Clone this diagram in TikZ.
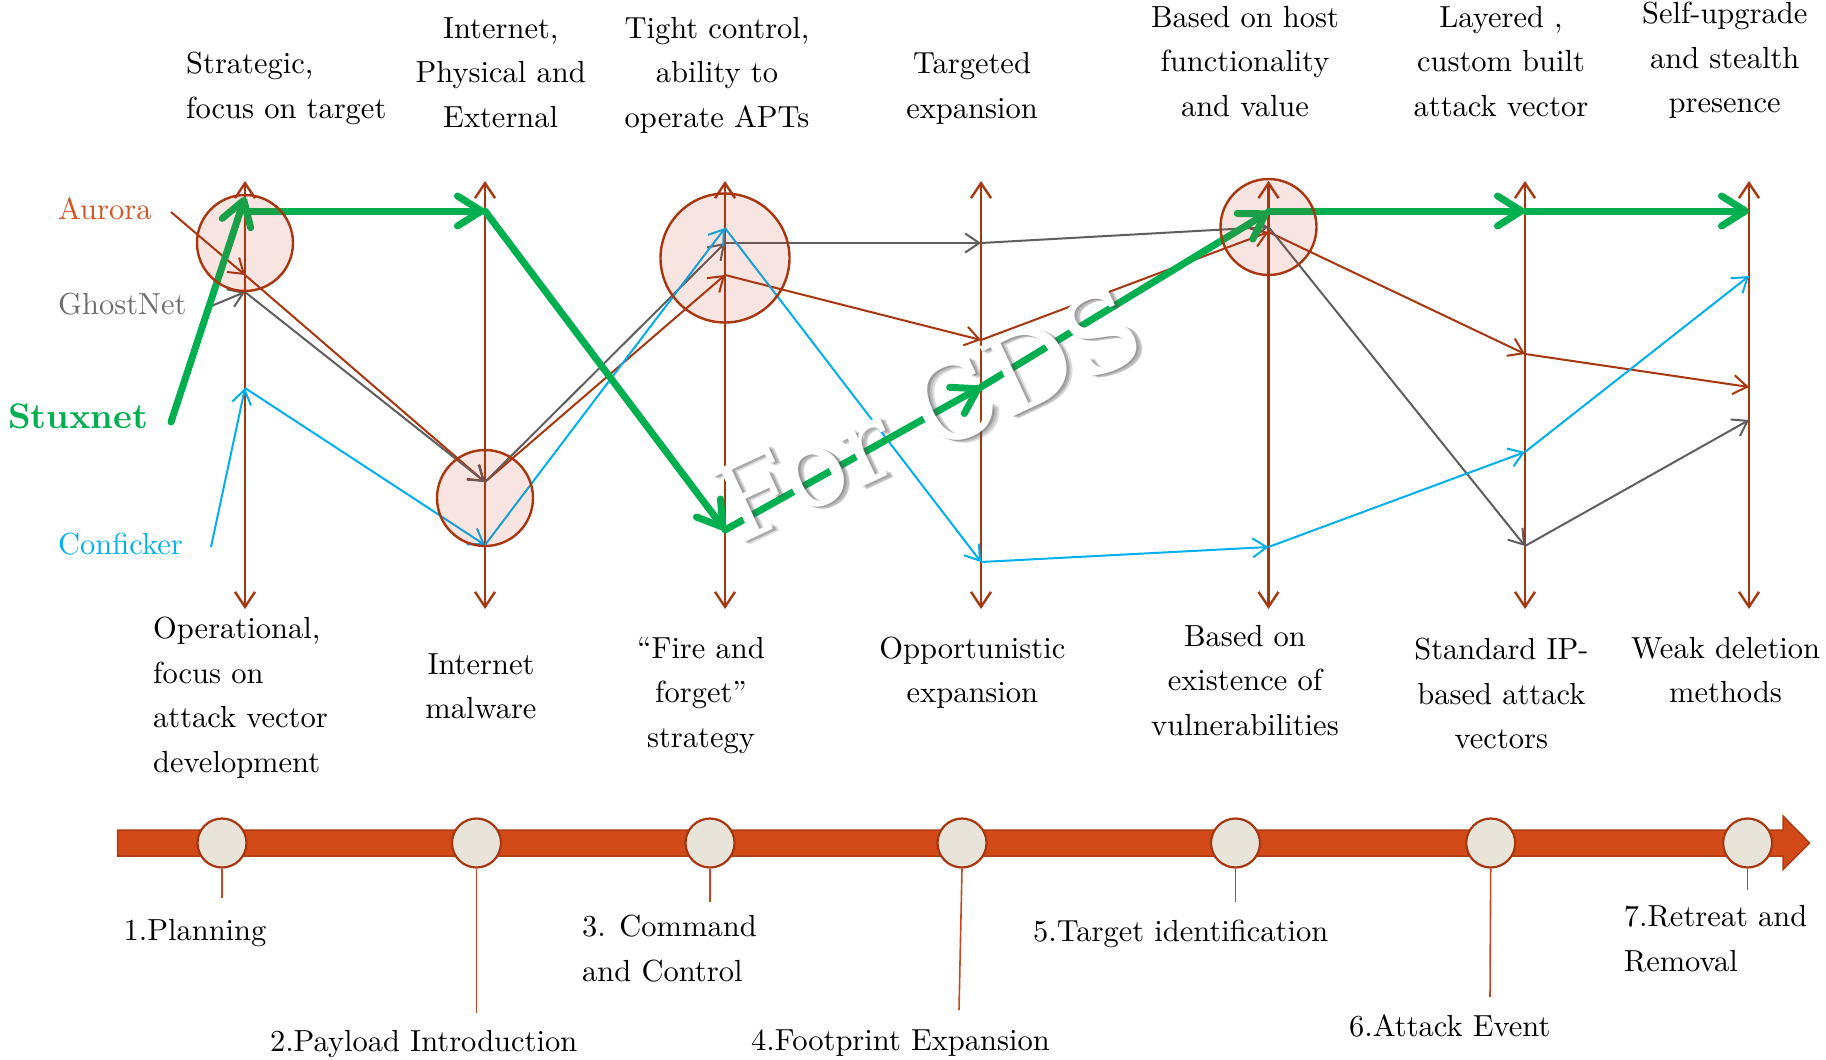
\documentclass[tikz,border=0pt]{standalone}
\usepackage{fontspec}
\setmainfont{lmroman10-regular.otf}[BoldFont=lmroman10-bold.otf, ItalicFont=lmroman10-italic.otf]
\newfontfamily\wmfont{DejaVu Serif}
\usetikzlibrary{arrows.meta}

\definecolor{rust}{HTML}{A8360F}
\definecolor{aurtxt}{HTML}{D65423}
\definecolor{gnline}{HTML}{5F5F5F}
\definecolor{gntxt}{HTML}{6E6E6E}
\definecolor{stuxgreen}{HTML}{00B050}
\definecolor{confblue}{HTML}{00B0F0}
\definecolor{hubfill}{HTML}{CB371B}
\definecolor{barfill}{HTML}{D14A18}
\definecolor{barline}{HTML}{B03C12}
\definecolor{stopfill}{HTML}{E8E4DA}
\definecolor{leadcol}{HTML}{C8471C}
\definecolor{shadowgray}{HTML}{505050}

\begin{document}
\begin{tikzpicture}[x=1pt,y=-1pt,
  lab/.style={inner sep=0pt, font=\fontsize{30.5}{44.5}\selectfont, align=center,
    execute at begin node=\strut, execute at end node=\strut},
  stage/.style={draw=rust, line width=2.4pt,
    arrows={Straight Barb[length=15pt,width=20pt]-Straight Barb[length=15pt,width=20pt]}},
  thinarrow/.style={line width=2pt, -{Straight Barb[length=14pt,width=19pt]}},
  aur/.style={thinarrow, draw=rust},
  ghost/.style={thinarrow, draw=gnline},
  confl/.style={thinarrow, draw=confblue},
  stux/.style={line width=7pt, draw=stuxgreen, line cap=round,
    -{Straight Barb[length=24pt,width=30pt,round]}},
  hub/.style={circle, draw=rust, line width=2.4pt, fill=hubfill, fill opacity=0.13, inner sep=0pt},
  stop/.style={circle, draw=rust, line width=2.2pt, fill=stopfill, inner sep=0pt, minimum size=49pt},
  leader/.style={draw=leadcol, line width=1.6pt},
  wm/.style={inner sep=0pt, rotate=25, font=\wmfont\fontsize{106}{106}\selectfont}
]
% page
\fill[white] (0,0) rectangle (1826,1060);
\useasboundingbox (0,0) rectangle (1826,1060);

% stage columns
\foreach \i/\x in {1/245,2/485,3/725,4/981,5/1268.5,6/1525,7/1749}{
  \coordinate (top\i) at (\x,181);
  \coordinate (bot\i) at (\x,609);
  \draw[stage] (bot\i) -- (top\i);
}

% Aurora
\coordinate (a0) at (171,212);
\coordinate (a1) at (245,275);
\coordinate (a2) at (485,482);
\coordinate (a3) at (725,275);
\coordinate (a4) at (981,340);
\coordinate (a5) at (1268.5,232);
\coordinate (a6) at (1525,354);
\coordinate (a7) at (1749,387);
% GhostNet
\coordinate (h0) at (209,307);
\coordinate (h1) at (245,292);
\coordinate (h2) at (485,482);
\coordinate (h3) at (725,243);
\coordinate (h4) at (981,243);
\coordinate (h5) at (1268.5,227);
\coordinate (h6) at (1525,546);
\coordinate (h7) at (1749,420);
% Conficker
\coordinate (b0) at (211,547);
\coordinate (b1) at (245,388);
\coordinate (b2) at (485,545);
\coordinate (b3) at (725,228);
\coordinate (b4) at (981,562);
\coordinate (b5) at (1268.5,547);
\coordinate (b6) at (1525,452);
\coordinate (b7) at (1749,276);
% Stuxnet
\coordinate (s0) at (171,422);
\coordinate (s1) at (245,197);
\coordinate (s1b) at (245,211);
\coordinate (s2) at (485,211);
\coordinate (s3) at (725,530);
\coordinate (s4) at (981,387);
\coordinate (s5) at (1268.5,212);
\coordinate (s5b) at (1268.5,211);
\coordinate (s6) at (1525,211);
\coordinate (s7) at (1749,211);

\foreach \p/\q in {a0/a1,a1/a2,a2/a3,a3/a4,a4/a5,a5/a6,a6/a7}
  \draw[aur] (\p) -- (\q);
\foreach \p/\q in {h0/h1,h1/h2,h2/h3,h3/h4,h4/h5,h5/h6,h6/h7}
  \draw[ghost] (\p) -- (\q);
\foreach \p/\q in {b0/b1,b1/b2,b2/b3,b3/b4,b4/b5,b5/b6,b6/b7}
  \draw[confl] (\p) -- (\q);
\foreach \p/\q in {s0/s1,s1b/s2,s2/s3,s3/s4,s4/s5,s5b/s6,s6/s7}
  \draw[stux] (\p) -- (\q);

% highlighted hubs
\node[hub, minimum size=96pt] (hub1) at (245,243) {};
\node[hub, minimum size=96pt] (hub2) at (485,498) {};
\node[hub, minimum size=129pt] (hub3) at (725,258) {};
\node[hub, minimum size=96pt] (hub5) at (1268.5,227) {};

% malware names
\node[lab, anchor=west, text=aurtxt] (nAurora) at (58,211) {Aurora};
\node[lab, anchor=west, text=gntxt] (nGhost) at (58,306) {GhostNet};
\node[lab, anchor=west, text=stuxgreen, font=\bfseries\fontsize{35.5}{44.5}\selectfont] (nStux) at (8,420) {Stuxnet};
\node[lab, anchor=west, text=confblue] (nConf) at (58,546) {Conficker};

% upper descriptions
\node[lab, anchor=west, align=left] (u1) at (186,92) {Strategic,\\focus on target};
\node[lab] (u2) at (500.7,79) {Internet,\\Physical and\\External};
\node[lab] (u3) at (717,79) {Tight control,\\ability to\\operate APTs};
\node[lab] (u4) at (972,92) {Targeted\\expansion};
\node[lab] (u5) at (1245,68) {Based on host\\functionality\\and value};
\node[lab] (u6) at (1501,68) {Layered ,\\custom built\\attack vector};
\node[lab] (u7) at (1724.7,64) {Self-upgrade\\and stealth\\presence};

% lower descriptions
\node[lab, anchor=west, align=left] (d1) at (153,701.6) {Operational,\\focus on\\attack vector\\development};
\node[lab] (d2) at (481,693) {Internet\\malware};
\node[lab] (d3) at (701,698.7) {“Fire and\\forget”\\strategy};
\node[lab] (d4) at (972.4,676.6) {Opportunistic\\expansion};
\node[lab] (d5) at (1245,687) {Based on\\existence of\\vulnerabilities};
\node[lab] (d6) at (1501.4,700) {Standard IP-\\based attack\\vectors};
\node[lab] (d7) at (1725.6,676.6) {Weak deletion\\methods};

% watermark with soft shadow
\coordinate (wmc) at (928,414);
\foreach \k/\d in {1/1,2/2.2,3/3.4,4/4.6}{
  \node[wm, text=shadowgray, text opacity=0.2, xshift=\d pt, yshift=-\d pt] (wmshadow\k) at (wmc) {For CDS};
}
\node[wm, text=white] (wmtext) at (wmc) {For CDS};

% timeline bar
\path[draw=barline, line width=1.5pt, fill=barfill, line join=miter]
  (117.7,830) -- (1783,830) -- (1783,816) -- (1809.6,843) -- (1783,869.5) -- (1783,856) -- (117.7,856) -- cycle;

% timeline stops and leaders
\foreach \i/\x/\ex/\ey in {1/222/222/898, 2/476.5/476.5/1013, 3/710/710/902, 4/962/959/1010,
                          5/1235.5/1235.5/902, 6/1490.7/1490/997, 7/1747.6/1747.6/890}{
  \node[stop] (t\i) at (\x,843) {};
  \coordinate (e\i) at (\ex,\ey);
  \draw[leader] (t\i.south) -- (e\i);
}

% phase names
\node[lab, anchor=west, align=left] (p1) at (123.4,931.6) {1.Planning};
\node[lab, anchor=west, align=left] (p2) at (269.8,1043) {2.Payload Introduction};
\node[lab, anchor=west, align=left] (p3) at (582,955) {3. Command\\and Control};
\node[lab, anchor=west, align=left] (p4) at (751,1042) {4.Footprint Expansion};
\node[lab, anchor=west, align=left] (p5) at (1033,932.7) {5.Target identification};
\node[lab, anchor=west, align=left] (p6) at (1349,1028) {6.Attack Event};
\node[lab, anchor=west, align=left] (p7) at (1623.6,945) {7.Retreat and\\Removal};
\end{tikzpicture}
\end{document}
